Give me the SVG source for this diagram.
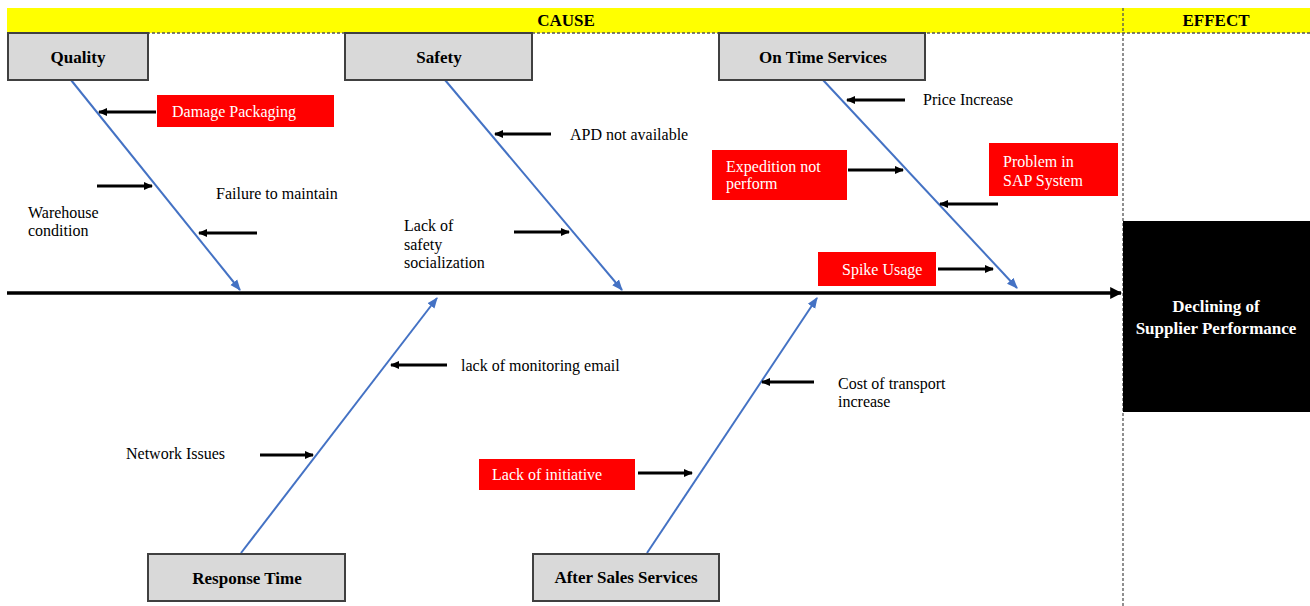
<svg xmlns="http://www.w3.org/2000/svg" width="1310" height="606" viewBox="0 0 1310 606">
<style>
.box{fill:#d9d9d9;stroke:#404040;stroke-width:2}
.hdr{font-family:"Liberation Serif","Times New Roman",serif;font-weight:bold;font-size:17px;fill:#000;text-anchor:middle}
.lbl{font-family:"Liberation Serif","Times New Roman",serif;font-size:16px;fill:#000}
.red{fill:#ff0000}
.wt{font-family:"Liberation Serif","Times New Roman",serif;font-size:16px;fill:#fff}
.bone{stroke:#4472c4;stroke-width:2;fill:none;marker-end:url(#bh)}
.sm{stroke:#000;stroke-width:2.8;fill:none;marker-end:url(#ah)}
.dash{stroke:#555;stroke-width:1.3;stroke-dasharray:3,2;fill:none}
</style>
<defs>
<marker id="ah" markerWidth="9" markerHeight="9" refX="8" refY="4.5" orient="auto" markerUnits="userSpaceOnUse" viewBox="0 0 9 9"><path d="M0,0.5 L9,4.5 L0,8.5 z" fill="#000"/></marker>
<marker id="ah2" viewBox="0 0 10 10" refX="9" refY="5" markerWidth="12" markerHeight="12" markerUnits="userSpaceOnUse" orient="auto"><path d="M0,0 L10,5 L0,10 z" fill="#000"/></marker>
<marker id="bh" viewBox="0 0 10 10" refX="9" refY="5" markerWidth="11" markerHeight="11" markerUnits="userSpaceOnUse" orient="auto"><path d="M0,1 L10,5 L0,9 z" fill="#4472c4"/></marker>
</defs>
<rect width="1310" height="606" fill="#fff"/>
<g id="header">
<rect x="7" y="8" width="1303" height="25" fill="#ffff00"/>
<line class="dash" x1="7" y1="33" x2="1310" y2="33"/>
<line class="dash" x1="1123" y1="8" x2="1123" y2="606"/>
<text class="hdr" x="566" y="26">CAUSE</text>
<text class="hdr" x="1216" y="26">EFFECT</text>
</g>
<g id="effect">
<rect x="1123" y="221" width="187" height="191" fill="#000"/>
<text class="hdr" x="1216" y="312" style="fill:#fff">Declining of</text>
<text class="hdr" x="1216" y="334" style="fill:#fff">Supplier Performance</text>
</g>
<g id="connectors">
<line x1="7" y1="293" x2="1121" y2="293" stroke="#000" stroke-width="3.5" marker-end="url(#ah2)"/>
<line class="bone" x1="71" y1="80" x2="240" y2="290"/>
<line class="bone" x1="445" y1="80" x2="622" y2="290"/>
<line class="bone" x1="823" y1="80" x2="1017" y2="288"/>
<line class="bone" x1="241" y1="553" x2="437" y2="298"/>
<line class="bone" x1="647" y1="553" x2="817" y2="298"/>
<line class="sm" x1="156" y1="112" x2="99" y2="112"/>
<line class="sm" x1="97" y1="186" x2="152" y2="186"/>
<line class="sm" x1="257" y1="233" x2="199" y2="233"/>
<line class="sm" x1="551" y1="134" x2="495" y2="134"/>
<line class="sm" x1="514" y1="232" x2="569" y2="232"/>
<line class="sm" x1="905" y1="100" x2="847" y2="100"/>
<line class="sm" x1="848" y1="170" x2="903" y2="170"/>
<line class="sm" x1="998" y1="204" x2="940" y2="204"/>
<line class="sm" x1="938" y1="269" x2="993" y2="269"/>
<line class="sm" x1="447" y1="365" x2="391" y2="365"/>
<line class="sm" x1="260" y1="455" x2="313" y2="455"/>
<line class="sm" x1="638" y1="473" x2="692" y2="473"/>
<line class="sm" x1="814" y1="382" x2="762" y2="382"/>
</g>
<g id="quality">
<rect class="box" x="8" y="33" width="140" height="47"/>
<text class="hdr" x="78" y="63">Quality</text>
</g>
<g id="safety">
<rect class="box" x="345" y="33" width="187" height="47"/>
<text class="hdr" x="439" y="63">Safety</text>
</g>
<g id="ontime">
<rect class="box" x="719" y="33" width="206" height="47"/>
<text class="hdr" x="823" y="63">On Time Services</text>
</g>
<g id="response">
<rect class="box" x="148" y="554" width="197" height="47"/>
<text class="hdr" x="247" y="584">Response Time</text>
</g>
<g id="aftersales">
<rect class="box" x="533" y="554" width="186" height="47"/>
<text class="hdr" x="626" y="583">After Sales Services</text>
</g>
<g id="damage-packaging">
<rect class="red" x="157" y="95" width="177" height="32"/>
<text class="wt" x="172" y="117">Damage Packaging</text>
</g>
<g id="failure">
<text class="lbl" x="216" y="199">Failure to maintain</text>
</g>
<g id="warehouse">
<text class="lbl" x="28" y="218">Warehouse</text>
<text class="lbl" x="28" y="236">condition</text>
</g>
<g id="apd">
<text class="lbl" x="570" y="140">APD not available</text>
</g>
<g id="lack-safety">
<text class="lbl" x="404" y="231">Lack of</text>
<text class="lbl" x="404" y="250">safety</text>
<text class="lbl" x="404" y="268">socialization</text>
</g>
<g id="price">
<text class="lbl" x="923" y="105">Price Increase</text>
</g>
<g id="expedition">
<rect class="red" x="712" y="150" width="135" height="50"/>
<text class="wt" x="726" y="172">Expedition not</text>
<text class="wt" x="726" y="189">perform</text>
</g>
<g id="sap">
<rect class="red" x="989" y="143" width="129" height="53"/>
<text class="wt" x="1003" y="167">Problem in</text>
<text class="wt" x="1003" y="186">SAP System</text>
</g>
<g id="spike">
<rect class="red" x="818" y="252" width="118" height="34"/>
<text class="wt" x="842" y="275">Spike Usage</text>
</g>
<g id="monitoring">
<text class="lbl" x="461" y="371">lack of monitoring email</text>
</g>
<g id="network">
<text class="lbl" x="126" y="459">Network Issues</text>
</g>
<g id="initiative">
<rect class="red" x="479" y="459" width="156" height="31"/>
<text class="wt" x="492" y="480">Lack of initiative</text>
</g>
<g id="transport">
<text class="lbl" x="838" y="389">Cost of transport</text>
<text class="lbl" x="838" y="407">increase</text>
</g>
</svg>
